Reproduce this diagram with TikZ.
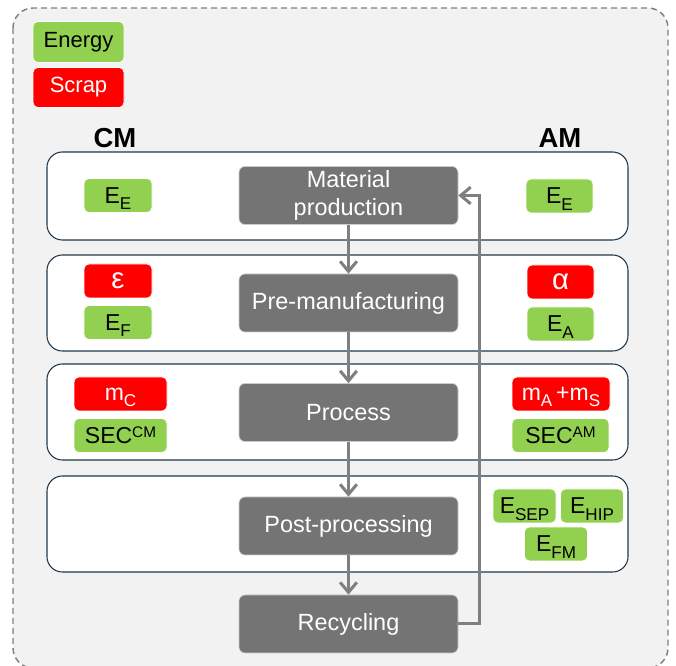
\documentclass[tikz,border=0pt]{standalone}
\usepackage{fontspec}
\setmainfont{Liberation Sans}
\usepackage{tikz}
\usetikzlibrary{arrows.meta}

\definecolor{energygreen}{RGB}{146,208,80}
\definecolor{scrapred}{RGB}{255,0,0}
\definecolor{stepgray}{RGB}{116,116,116}
\definecolor{flowgray}{RGB}{127,127,127}
\definecolor{rowline}{RGB}{31,56,75}
\definecolor{panelgray}{RGB}{242,242,242}

\newcommand{\lowidx}[1]{\smash{\raisebox{-0.27em}{\fontsize{12.8}{12.8}\selectfont #1}}}
\newcommand{\upidx}[1]{\smash{\raisebox{0.27em}{\fontsize{11.5}{11.5}\selectfont #1}}}
\newcommand{\greek}[1]{{\fontsize{22}{22}\selectfont #1}}

\tikzset{
	stepbox/.style={rectangle, rounded corners=4.5pt, fill=stepgray, draw=white!80!black, line width=0.5pt, text=white, minimum width=164.25pt, minimum height=43.5pt, inner sep=0pt, align=center, font=\fontsize{17.6}{21.5}\selectfont},
	tagbox/.style={rectangle, rounded corners=3.75pt, draw=white, line width=0.5pt, minimum height=25.5pt, inner sep=0pt, font=\fontsize{17.25}{19}\selectfont},
	energybox/.style={tagbox, fill=energygreen, text=black},
	scrapbox/.style={tagbox, fill=scrapred, text=white},
	rowbox/.style={draw=rowline, fill=white, line width=0.8pt, rounded corners=11.5pt},
	flow/.style={draw=flowgray, line width=2.25pt, -{Straight Barb[length=7.5pt,width=12.5pt]}}
}

\begin{document}
\begin{tikzpicture}[x=0.75pt,y=0.75pt,yscale=-1,xscale=1]
	\useasboundingbox (0,0) rectangle (676,666);

	%Outer panel
	\draw [draw=flowgray, fill=panelgray, line width=1.1pt, dash pattern={on 4.5pt off 3pt}, rounded corners=15pt] (13,8) rectangle (668,668);

	%Rows
	\draw [rowbox] (47,152) rectangle (628,240);
	\draw [rowbox] (47,255) rectangle (628,351);
	\draw [rowbox] (47,364) rectangle (628,460);
	\draw [rowbox] (47,476) rectangle (628,572);

	% Legend
	\node [energybox, minimum width=68.25pt, minimum height=30.75pt, font=\fontsize{16.5}{18}\selectfont] (legenergy) at (78.5,42) {Energy};
	\node [scrapbox, minimum width=68.25pt, minimum height=30pt, font=\fontsize{16.5}{18}\selectfont] (legscrap) at (78.5,87.5) {Scrap};

	% Column titles
	\node [font=\bfseries\fontsize{20.6}{22}\selectfont] (cmtitle) at (115,138) {CM};
	\node [font=\bfseries\fontsize{20.6}{22}\selectfont] (amtitle) at (560,138) {AM};

	% Steps
	\node [stepbox] (matprod) at (348.5,195.5) {Material\\production};
	\node [stepbox] (premanu) at (348.5,303) {Pre-manufacturing};
	\node [stepbox] (process) at (348.5,412.5) {Process};
	\node [stepbox] (postproc) at (348.5,526) {Post-processing};
	\node [stepbox] (recycle) at (348.5,624) {Recycling};

	% CM side
	\node [energybox, minimum width=51pt] (cmee) at (118,195.5) {E\lowidx{E}};
	\node [scrapbox, minimum width=51pt] (cmeps) at (118,281) {\greek{ε}};
	\node [energybox, minimum width=51pt] (cmef) at (118,322.5) {E\lowidx{F}};
	\node [scrapbox, minimum width=69.75pt] (cmmc) at (120.5,394) {m\lowidx{C}};
	\node [energybox, minimum width=69.75pt] (cmsec) at (120.5,435.5) {SEC\upidx{CM}};

	% AM side
	\node [energybox, minimum width=50.25pt] (amee) at (559.5,196) {E\lowidx{E}};
	\node [scrapbox, minimum width=50.25pt] (amalpha) at (560.5,282) {\greek{α}};
	\node [energybox, minimum width=50.25pt] (amea) at (560.5,324) {E\lowidx{A}};
	\node [scrapbox, minimum width=73.5pt] (ammass) at (561,394) {m\lowidx{A}\,+m\lowidx{S}};
	\node [energybox, minimum width=72.75pt] (amsec) at (560.5,435.5) {SEC\upidx{AM}};
	\node [energybox, minimum width=47.25pt] (amesep) at (524.5,506) {E\lowidx{SEP}};
	\node [energybox, minimum width=47.25pt] (amehip) at (592,506) {E\lowidx{HIP}};
	\node [energybox, minimum width=47.25pt] (amefm) at (556,544) {E\lowidx{FM}};

	% Flow
	\draw [flow] (matprod) -- (premanu);
	\draw [flow] (premanu) -- (process);
	\draw [flow] (process) -- (postproc);
	\draw [flow] (postproc) -- (recycle);

	% Feedback
	\coordinate (back) at (479.5,400);
	\draw [flow] (recycle.east) -- (recycle.east -| back) -- (matprod.east -| back) -- (matprod.east);

\end{tikzpicture}
\end{document}
